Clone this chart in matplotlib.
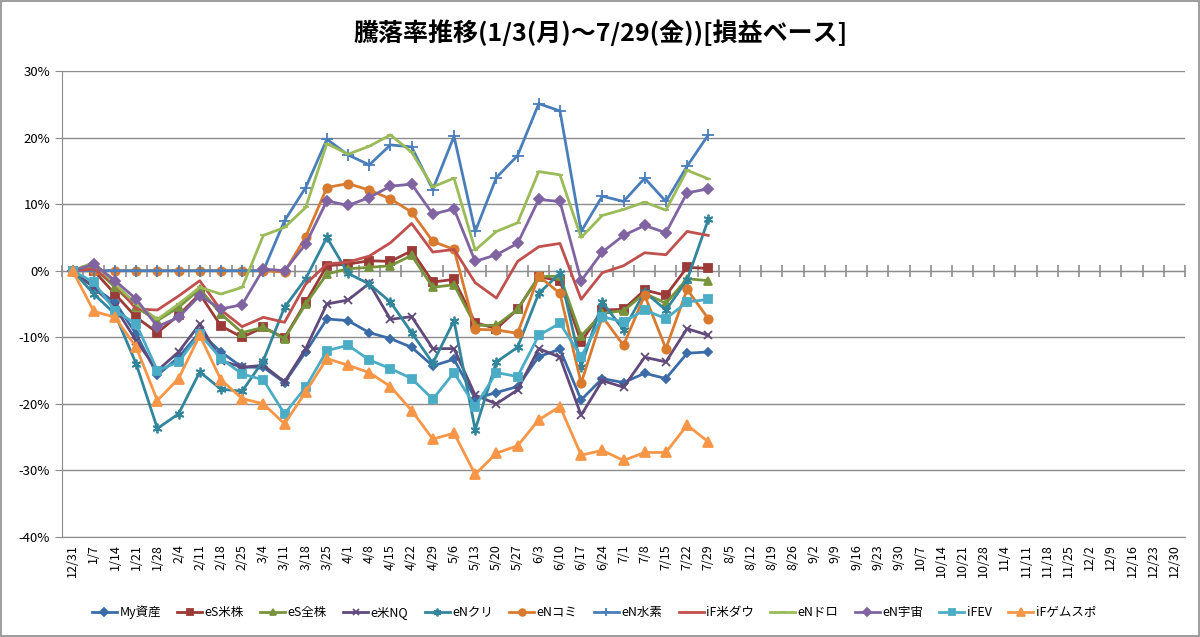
import numpy as np
import matplotlib.pyplot as plt
from matplotlib.patches import Rectangle
from matplotlib.ticker import FuncFormatter

plt.rcParams['font.family'] = ['Noto Sans CJK JP', 'DejaVu Sans']

# weekly category labels (whole year) and measured weeks
weeks = ["12/31", "1/7", "1/14", "1/21", "1/28", "2/4", "2/11", "2/18", "2/25",
         "3/4", "3/11", "3/18", "3/25", "4/1", "4/8", "4/15", "4/22", "4/29",
         "5/6", "5/13", "5/20", "5/27", "6/3", "6/10", "6/17", "6/24", "7/1",
         "7/8", "7/15", "7/22", "7/29", "8/5", "8/12", "8/19", "8/26", "9/2",
         "9/9", "9/16", "9/23", "9/30", "10/7", "10/14", "10/21", "10/28",
         "11/4", "11/11", "11/18", "11/25", "12/2", "12/9", "12/16", "12/23",
         "12/30"]

# values in %
my_shisan = [0, -2.5, -4.75, -9.5, -15.7, -13, -9.25, -12.2, -14.5, -14.5, -16.8,
             -12.2, -7.25, -7.5, -9.3, -10.2, -11.5, -14.3, -13.3, -19.2, -18.3,
             -17.4, -12.9, -11.8, -19.4, -16.2, -16.8, -15.4, -16.2, -12.4, -12.2]
es_beikabu = [0, 0, -3.5, -7, -9.3, -6.7, -3.5, -8.3, -10, -8.5, -10.1, -4.75,
              0.75, 1.0, 1.5, 1.4, 3.0, -1.7, -1.3, -7.8, -8.7, -5.8, -0.9, -1.5,
              -10.7, -5.9, -5.8, -2.9, -3.7, 0.5, 0.35]
es_zenkabu = [0, 0.5, -2.5, -5.5, -7.5, -5.5, -2.75, -6.5, -9.3, -8.5, -10.2, -5,
              -0.5, 0.3, 0.5, 0.75, 2.3, -2.5, -2.1, -8.2, -8.2, -5.8, -0.9, -0.8,
              -9.8, -6.4, -6.0, -3.4, -4.9, -1.2, -1.5]
e_bei_nq = [0, -2.5, -5.5, -10.5, -15, -12.2, -8.0, -13.5, -14.5, -14.2, -16.7,
            -11.7, -5.0, -4.4, -1.9, -7.3, -6.9, -11.7, -11.7, -18.7, -20.0, -17.9,
            -11.7, -13.0, -21.7, -16.5, -17.5, -13.0, -13.7, -8.7, -9.7]
en_kuri = [0, -3.5, -6.5, -14, -23.7, -21.5, -15.2, -17.8, -18.1, -13.5, -5.5,
           -1.2, 5.0, -0.4, -2.0, -4.7, -9.3, -13.9, -7.5, -23.9, -13.7, -11.5,
           -3.4, -0.4, -14.4, -4.7, -8.9, -3.2, -5.9, -1.4, 7.7]
en_komi = [0, 0, 0, 0, 0, 0, 0, 0, 0, 0, -0.2, 5.1, 12.5, 13.1, 12.1, 10.8, 8.8,
           4.4, 3.2, -8.8, -8.9, -9.4, -0.8, -3.4, -16.9, -6.9, -11.2, -3.7,
           -11.7, -2.8, -7.2]
en_suiso = [0, 0, 0, 0, 0, 0, 0, 0, 0, 0, 7.5, 12.5, 19.75, 17.4, 15.9, 18.9,
            18.6, 12.2, 20.2, 5.9, 14.0, 17.3, 25.1, 24.0, 5.9, 11.2, 10.4, 13.9,
            10.4, 15.7, 20.4]
if_beidow = [0, 0.25, -2, -5.75, -5.9, -3.8, -1.5, -5.9, -8.4, -7, -7.75, -2,
             1.0, 1.3, 2.2, 4.2, 7.1, 2.8, 3.2, -1.8, -4.1, 1.4, 3.6, 4.1, -4.3,
             -0.3, 0.75, 2.7, 2.4, 5.9, 5.3]
en_doro = [0, 1.25, -2, -5, -7.3, -5, -2.5, -3.5, -2.5, 5.3, 6.5, 9.5, 19.1, 17.5,
           18.7, 20.4, 17.8, 12.6, 13.9, 3.1, 5.9, 7.2, 14.9, 14.4, 5.0, 8.3, 9.2,
           10.3, 9.1, 15.1, 13.8]
en_uchu = [0, 1.0, -1.5, -4.25, -8.4, -7, -3.75, -5.75, -5.1, 0.25, 0, 4.0, 10.5,
           9.8, 11.0, 12.7, 13.0, 8.5, 9.3, 1.4, 2.4, 4.1, 10.7, 10.4, -1.5, 2.8,
           5.3, 6.8, 5.7, 11.7, 12.3]
if_ev = [0, -1.75, -6, -8.0, -15, -13.7, -9.5, -13.2, -15.5, -16.4, -21.5, -17.5,
         -12, -11.2, -13.4, -14.7, -16.2, -19.3, -15.3, -20.4, -15.3, -15.9, -9.7,
         -7.9, -12.9, -6.9, -7.7, -5.9, -7.2, -4.7, -4.3]
if_gamespo = [0, -6.1, -7, -11.5, -19.5, -16.2, -9.7, -16.4, -19.2, -20, -23,
              -18.2, -13.2, -14.2, -15.3, -17.4, -21, -25.3, -24.4, -30.6, -27.4,
              -26.3, -22.4, -20.4, -27.7, -27.0, -28.5, -27.3, -27.3, -23.2, -25.7]

series = [
    ("My資産", my_shisan, '#3b6ca8', 'D', 4.5),
    ("eS米株", es_beikabu, '#9b3a37', 's', 5.5),
    ("eS全株", es_zenkabu, '#77933c', '^', 6),
    ("e米NQ", e_bei_nq, '#604a7b', 'x', 6),
    ("eNクリ", en_kuri, '#31859c', (6, 2, 0), 7),
    ("eNコミ", en_komi, '#d97b2f', 'o', 6),
    ("eN水素", en_suiso, '#4a7ebb', '+', 8),
    ("iF米ダウ", if_beidow, '#c0504d', None, 0),
    ("eNドロ", en_doro, '#9bbb59', '_', 5),
    ("eN宇宙", en_uchu, '#8064a2', 'D', 5),
    ("iFEV", if_ev, '#4bacc6', 's', 6),
    ("iFゲムスポ", if_gamespo, '#f79646', '^', 7),
]

ymin, ymax = -40, 30
grid_col = '#8c8c8c'

fig = plt.figure(figsize=(12, 6.37), dpi=100)
ax = fig.add_axes([0.0517, 0.157, 0.9358, 0.7315])

x = np.arange(len(my_shisan))
for name, vals, col, mk, ms in series:
    ax.plot(x, vals, color=col, lw=2, marker=mk, markersize=ms,
            markeredgewidth=1.3, label=name, zorder=3)

ax.set_ylim(ymin, ymax)
ax.set_xlim(-0.5, len(weeks) - 0.5)
ax.set_yticks(np.arange(ymin, ymax + 1, 10))
ax.yaxis.set_major_formatter(FuncFormatter(lambda v, p: f"{int(v)}%"))
ax.yaxis.grid(True, color=grid_col, lw=1)
ax.set_axisbelow(True)

ax.set_xticks(np.arange(len(weeks)))
ax.set_xticklabels(weeks, fontsize=9)
ax.tick_params(axis='x', length=0, pad=5, labelrotation=90)
ax.tick_params(axis='y', length=5, color=grid_col, labelsize=9.5)

ax.spines['top'].set_visible(False)
ax.spines['right'].set_visible(False)
ax.spines['left'].set_color(grid_col)
ax.spines['bottom'].set_color(grid_col)

# category axis line crosses at 0% with tick marks between categories
sec = ax.secondary_xaxis((0 - ymin) / (ymax - ymin))
sec.set_xticks(np.arange(-0.5, len(weeks), 1))
sec.set_xticklabels([])
sec.xaxis.set_tick_params(which='major', top=True, bottom=True,
                          direction='out', length=4, width=1.2, color=grid_col)
for sp in sec.spines.values():
    sp.set_color(grid_col)

fig.text(0.5, 0.948, "騰落率推移(1/3(月)～7/29(金))[損益ベース]",
         ha='center', va='center', fontsize=18, fontweight='bold')

fig.legend(loc='center', bbox_to_anchor=(0.495, 0.039), ncol=12, frameon=False,
           fontsize=9, handlelength=2.0, columnspacing=1.3, handletextpad=0.2,
           markerscale=0.8)

fig.patches.append(Rectangle((0.001, 0.001), 0.998, 0.997, transform=fig.transFigure,
                             fill=False, ec='#8c8c8c', lw=1.2))

fig.savefig("out.png", dpi=100)
